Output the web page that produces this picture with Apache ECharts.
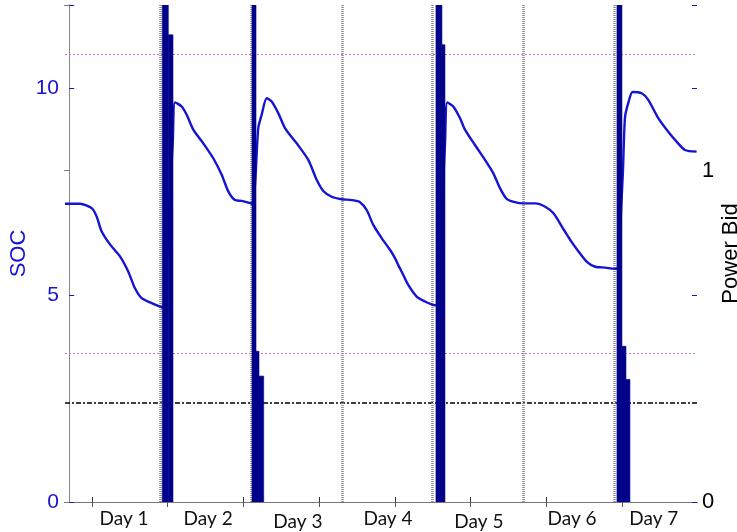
<!DOCTYPE html>
<html>
<head>
<meta charset="utf-8">
<script src="https://cdn.jsdelivr.net/npm/echarts@6/dist/echarts.min.js"></script>
<style>
html,body{margin:0;padding:0;background:#fff;}
#chart{width:737px;height:532px;}
</style>
</head>
<body>
<div id="chart"></div>
<script>
// ---- data (x in hours, day boundaries at multiples of 24) ----
const dayLabels = ['Day 1','Day 2','Day 3','Day 4','Day 5','Day 6','Day 7'];
const dayLabelPos = [14.5, 36.7, 60.4, 84.2, 108.2, 132.8, 154.4];
const dayLabelLow = [false, false, true, false, true, false, false];
const xTickPos = [6, 26, 46, 66, 86, 106, 126, 146];
const dayBoundaries = [24, 48, 72, 96, 120, 144];

const socTime = [-1.1, 2.86, 6.03, 7.27, 8.59, 10.78, 13.42, 15.62, 17.38, 19.15, 21.35, 24.0, 24.6,
  27.34, 27.95, 29.72, 31.04, 32.78, 35.42, 38.06, 40.28, 42.02, 43.79, 45.56, 48.0, 48.3,
  49.07, 49.94, 50.84, 52.16, 53.48, 55.22, 56.99, 60.08, 63.15, 65.36, 67.11, 69.32, 71.96,
  74.61, 76.80, 78.57, 80.31, 82.53, 84.72, 86.04, 86.91, 87.81, 89.55, 91.77, 93.96, 96.0, 96.8,
  99.24, 99.85, 101.43, 103.20, 104.52, 107.16, 109.80, 111.99, 113.76, 115.53, 117.72, 119.92,
  123.06, 125.71, 127.90, 130.12, 132.31, 134.51, 136.73, 138.92, 141.56, 144.0, 144.6,
  146.16, 146.77, 147.64, 148.81, 151.18, 152.93, 155.57, 158.21, 160.42, 162.61, 165.7];
const socValue = [7.2, 7.2, 7.09, 6.89, 6.53, 6.22, 5.93, 5.56, 5.16, 4.92, 4.82, 4.72, 4.70,
  8.66, 9.65, 9.55, 9.35, 8.99, 8.66, 8.30, 7.90, 7.50, 7.29, 7.27, 7.21, 7.20,
  7.66, 9.03, 9.35, 9.75, 9.67, 9.39, 9.03, 8.66, 8.26, 7.78, 7.51, 7.37, 7.31,
  7.29, 7.24, 7.05, 6.69, 6.37, 6.09, 5.89, 5.72, 5.56, 5.24, 4.96, 4.84, 4.76, 4.75,
  8.62, 9.65, 9.55, 9.27, 8.99, 8.62, 8.26, 7.94, 7.58, 7.32, 7.24, 7.21,
  7.21, 7.13, 6.97, 6.65, 6.33, 6.05, 5.80, 5.68, 5.66, 5.63, 5.63,
  7.82, 9.27, 9.63, 9.90, 9.87, 9.71, 9.27, 8.94, 8.70, 8.50, 8.46];

// power bid bars: start hour, end hour, value (values above 1.5 run off the top)
const bidStart = [24.59, 26.18, 48.28, 49.34, 50.13, 96.86, 98.44, 144.66, 145.98, 147.04];
const bidEnd   = [26.18, 27.42, 49.34, 50.13, 51.37, 98.44, 99.24, 145.98, 147.04, 148.09];
const bidValue = [1.8, 1.41, 1.8, 0.455, 0.38, 1.8, 1.38, 1.8, 0.47, 0.37];

const socUpper = 10.8, socLower = 3.6, socMin = 2.4;

const xMin = -1.1, xMax = 165.8;

// ---- chart ----
const chart = echarts.init(document.getElementById('chart'), null, {renderer: 'canvas'});
const blue = '#1414d2';
const navy = '#00008a';
const font = '"Liberation Sans", Arial, sans-serif';
const dayFont = 'Lato, "Open Sans", sans-serif';

const bidData = bidStart.map((s, i) => [s, bidEnd[i], bidValue[i]]);
const socData = socTime.map((t, i) => [t, socValue[i]]);

const option = {
  animation: false,
  grid: {left: 65, right: 40, top: 5, bottom: 30, containLabel: false, outerBoundsMode: 'none'},
  xAxis: [
    {
      type: 'value', min: xMin, max: xMax, position: 'bottom',
      axisLine: {lineStyle: {color: '#222', width: 1}},
      axisTick: {inside: true, length: 5, lineStyle: {color: '#333'}, customValues: xTickPos},
      axisLabel: {
        customValues: dayLabelPos, margin: 7,
        formatter: v => {
          const i = dayLabelPos.indexOf(v);
          if (i < 0) return '';
          return dayLabelLow[i] ? '{lo|' + dayLabels[i] + '}' : '{n|' + dayLabels[i] + '}';
        },
        rich: {
          n: {fontFamily: dayFont, fontSize: 19, color: '#111'},
          lo: {fontFamily: dayFont, fontSize: 19, color: '#111', padding: [3, 0, 0, 0]}
        },
        fontFamily: dayFont, fontSize: 19, color: '#111'
      },
      splitLine: {show: false}
    },
    {
      type: 'value', min: xMin, max: xMax, position: 'top',
      axisLine: {lineStyle: {color: '#777', width: 1}},
      axisTick: {inside: true, length: 5, lineStyle: {color: '#555'}, customValues: xTickPos},
      axisLabel: {show: false},
      splitLine: {show: false}
    }
  ],
  yAxis: [
    {
      type: 'value', min: 0, max: 12, interval: 5, position: 'left',
      name: 'SOC', nameLocation: 'middle', nameGap: 35, nameRotate: 90, nameMoveOverlap: false,
      nameTextStyle: {color: blue, fontSize: 22, fontFamily: font},
      axisLine: {show: true, lineStyle: {color: '#7a7ae6', width: 1}},
      axisTick: {show: true, inside: true, length: 5, lineStyle: {color: blue}},
      axisLabel: {color: blue, fontSize: 21, fontFamily: font, margin: 6,
        formatter: v => (v % 5 === 0 ? String(v) : '')},
      splitLine: {show: false}
    },
    {
      type: 'value', min: 0, max: 1.5, interval: 1, position: 'right',
      name: 'Power Bid', nameLocation: 'middle', nameGap: 23, nameRotate: 90, nameMoveOverlap: false,
      nameTextStyle: {color: '#000', fontSize: 22, fontFamily: font},
      axisLine: {show: true, lineStyle: {color: '#888', width: 1}},
      axisTick: {show: true, inside: true, length: 5, lineStyle: {color: '#777'}},
      axisLabel: {color: '#000', fontSize: 22, fontFamily: font, margin: 5,
        formatter: v => (v === 0 || v === 1 ? String(v) : '')},
      splitLine: {show: false}
    },
    {
      // mirrored SOC ticks on the right edge
      type: 'value', min: 0, max: 12, interval: 5, position: 'right',
      axisLine: {show: false},
      axisTick: {show: true, inside: true, length: 5, lineStyle: {color: blue}},
      axisLabel: {show: false},
      splitLine: {show: false}
    }
  ],
  series: [
    {
      // reference lines only
      type: 'line', xAxisIndex: 0, yAxisIndex: 0, data: [], z: 1,
      markLine: {
        z: 1, silent: true, symbol: 'none', label: {show: false}, animation: false,
        data: [
          {yAxis: socUpper, lineStyle: {color: '#c07cc0', type: [2, 2], width: 1.2}},
          {yAxis: socLower, lineStyle: {color: '#c07cc0', type: [2, 2], width: 1.2}},
          {yAxis: socMin, lineStyle: {color: '#000', type: [5, 2, 2, 2], width: 1.6}}
        ].concat(dayBoundaries.map(d => ({xAxis: d, lineStyle: {color: '#8c8c8c', type: [1, 1], width: 2.6}})))
      }
    },
    {
      type: 'line', xAxisIndex: 0, yAxisIndex: 0, data: socData,
      showSymbol: false, symbol: 'none', smooth: 0.25, z: 2,
      lineStyle: {color: blue, width: 2.4}
    },
    {
      type: 'custom', xAxisIndex: 0, yAxisIndex: 1, clip: true,
      data: bidData,
      encode: {x: [0, 1], y: 2},
      z: 3,
      renderItem: function (params, api) {
        const p0 = api.coord([api.value(0), api.value(2)]);
        const p1 = api.coord([api.value(1), 0]);
        const rect = echarts.graphic.clipRectByRect(
          {x: p0[0], y: p0[1], width: p1[0] - p0[0], height: p1[1] - p0[1]},
          {x: params.coordSys.x, y: params.coordSys.y, width: params.coordSys.width, height: params.coordSys.height});
        return rect && {type: 'rect', shape: rect, style: {fill: navy, stroke: navy, lineWidth: 0.6}};
      }
    }
  ]
};
chart.setOption(option);
</script>
</body>
</html>
